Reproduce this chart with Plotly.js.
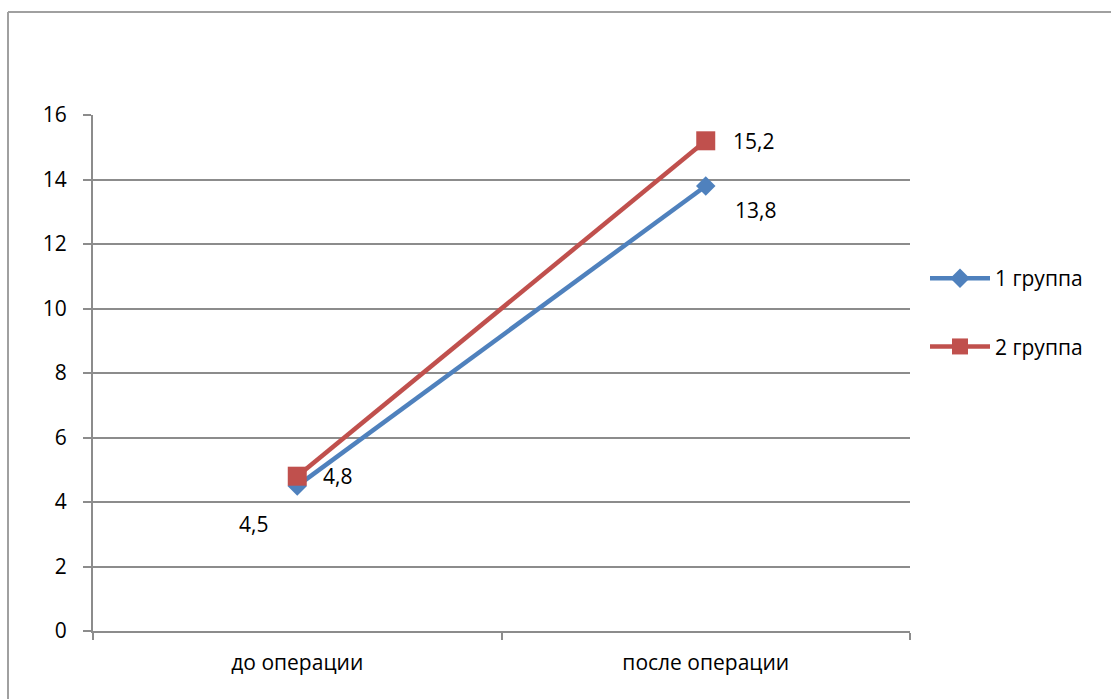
<!DOCTYPE html>
<html>
<head>
<meta charset="utf-8">
<script src="https://cdn.plot.ly/plotly-3.0.1.min.js"></script>
<style>
  html, body { margin: 0; padding: 0; background: #fff; }
  #chart { width: 1111px; height: 699px; }
</style>
</head>
<body>
<div id="chart"></div>
<script>
// Stages of treatment and the mean values of each group
const stages = ['до операции', 'после операции'];
const group1 = [4.5, 13.8];
const group2 = [4.8, 15.2];
const seriesNames = ['1 группа', '2 группа'];
const yTicks = [0, 2, 4, 6, 8, 10, 12, 14, 16];

const blue = '#4F81BD';
const red = '#C0504D';
const axisGray = '#8C8C8C';
const font = 'Open Sans, Noto Sans, sans-serif';
const fs = 21;

const fmt = v => String(v).replace('.', ',');

const traces = [
  {
    x: stages, y: group1, name: seriesNames[0], legendgroup: 'g1',
    type: 'scatter', mode: 'lines+markers',
    line: { color: blue, width: 4.5 },
    marker: { symbol: 'diamond', size: 15, color: blue }
  },
  {
    x: stages, y: group2, name: seriesNames[1], legendgroup: 'g2',
    type: 'scatter', mode: 'lines+markers',
    line: { color: red, width: 4.5 },
    marker: { symbol: 'square', size: 19, color: red }
  }
];

// Value labels: group 1 sits below its points, group 2 to the right
const labelOffsets1 = [[-44, 38], [50, 24]];
const labelOffsets2 = [[40, 0], [48, 0]];
const annotations = [];
group1.forEach((v, i) => annotations.push({
  x: stages[i], y: v, text: fmt(v), showarrow: false,
  xshift: labelOffsets1[i][0], yshift: -labelOffsets1[i][1],
  font: { family: font, size: fs, color: '#000' }
}));
group2.forEach((v, i) => annotations.push({
  x: stages[i], y: v, text: fmt(v), showarrow: false,
  xshift: labelOffsets2[i][0], yshift: -labelOffsets2[i][1],
  font: { family: font, size: fs, color: '#000' }
}));

// Plot area: x 93..910 px, y 115..631 px
const L = 93, R = 910, T = 115, B = 631;
const px = v => (v - L) / (R - L);
const py = v => (B - v) / (B - T);

const layout = {
  width: 1111, height: 699,
  margin: { l: L, r: 1111 - R, t: T, b: 699 - B, pad: 0 },
  paper_bgcolor: '#fff', plot_bgcolor: '#fff',
  font: { family: font, size: fs, color: '#000' },
  showlegend: true,
  legend: {
    x: px(925), y: py(258), xanchor: 'left', yanchor: 'top',
    font: { family: font, size: fs, color: '#000' },
    tracegroupgap: 38, itemwidth: 60, bgcolor: 'rgba(0,0,0,0)'
  },
  xaxis: {
    type: 'category', range: [-0.5, 1.5],
    showline: true, linecolor: axisGray, linewidth: 2,
    ticks: 'outside', tickson: 'boundaries', ticklen: 7, tickcolor: axisGray, tickwidth: 2,
    ticklabelstandoff: 12,
    showgrid: false, zeroline: false,
    tickfont: { family: font, size: fs, color: '#000' }
  },
  yaxis: {
    range: [0, 16], tickvals: yTicks, ticktext: yTicks.map(String),
    showline: true, linecolor: axisGray, linewidth: 2,
    ticks: 'outside', ticklen: 8, tickcolor: axisGray, tickwidth: 2,
    ticklabelstandoff: 12,
    showgrid: true, gridcolor: axisGray, gridwidth: 2, zeroline: false,
    tickfont: { family: font, size: fs, color: '#000' }
  },
  annotations: annotations,
  shapes: [
    // frame around the chart
    { type: 'line', xref: 'paper', yref: 'paper', x0: px(8), x1: px(8), y0: py(12), y1: py(699),
      line: { color: '#A0A0A0', width: 2 } },
    { type: 'line', xref: 'paper', yref: 'paper', x0: px(8), x1: px(1111), y0: py(12), y1: py(12),
      line: { color: '#A0A0A0', width: 2 } }
  ]
};

Plotly.newPlot('chart', traces, layout, { displayModeBar: false, staticPlot: true });
</script>
</body>
</html>
